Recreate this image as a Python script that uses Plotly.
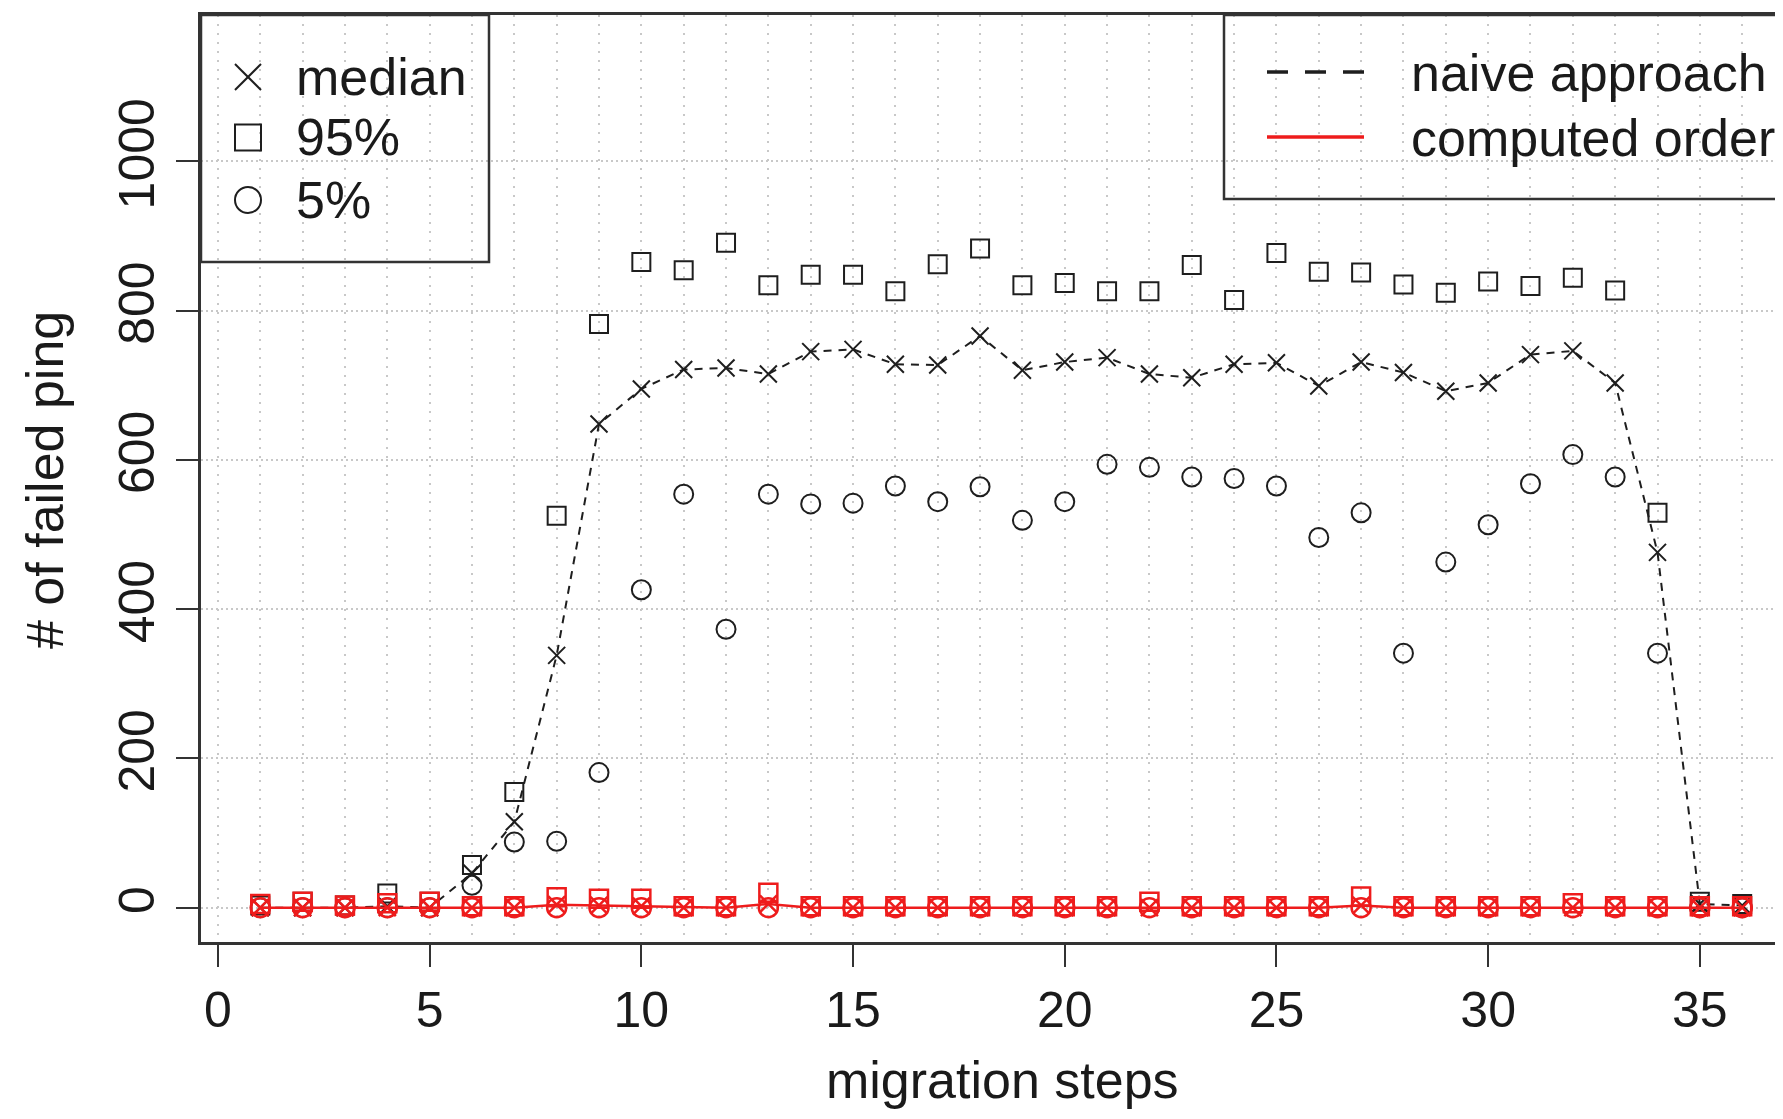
import plotly.graph_objects as go

# ---------------- data ----------------
steps = list(range(1, 37))

naive_median = [0, 0, 0, 2, 0, 46, 115, 338, 648, 695, 721, 723, 715, 745, 748, 728,
                727, 766, 720, 731, 737, 715, 710, 728, 730, 699, 731, 717, 692, 703,
                741, 746, 703, 476, 5, 3]
naive_p95 = [3, 8, 3, 19, 8, 57, 155, 525, 782, 865, 854, 891, 834, 848, 848, 826,
             862, 883, 834, 837, 826, 826, 861, 814, 877, 852, 851, 835, 824, 839,
             833, 844, 827, 529, 8, 5]
naive_p5 = [0, 0, 0, 0, 0, 30, 88, 89, 181, 426, 554, 373, 554, 541, 542, 565,
            544, 564, 519, 544, 594, 590, 577, 575, 565, 496, 529, 341, 463, 513,
            568, 607, 577, 341, 0, 0]

comp_median = [0, 0, 0, 0, 0, 0, 0, 4, 3, 2, 0, 0, 5, 0, 0, 0,
               0, 0, 0, 0, 0, 0, 0, 0, 0, 0, 3, 0, 0, 0,
               0, 0, 0, 0, 0, 0]
comp_p95 = [5, 8, 3, 6, 8, 2, 2, 14, 12, 12, 2, 2, 20, 2, 2, 2,
            2, 2, 2, 2, 2, 8, 2, 2, 2, 2, 15, 2, 2, 2,
            2, 6, 2, 2, 2, 2]
comp_p5 = [0] * 36

x_ticks = [0, 5, 10, 15, 20, 25, 30, 35]
y_ticks = [0, 200, 400, 600, 800, 1000]

legend_stats = ["median", "95%", "5%"]
legend_methods = ["naive approach", "computed order"]

# ---------------- style ----------------
BLACK = "#1e1e1e"
RED = "#ee1c1c"
FRAME = "#333333"
GRID = "#c8c8c8"
TXT = "#1a1a1a"
FONT = "Liberation Sans, Arial, Helvetica, sans-serif"

OFF = 8  # default page margin of the html body
W_FIG, H_FIG = 1783 - 2 * OFF, 1119 - 2 * OFF
L, T, B_PX = 201 - OFF, 15 - OFF, 942 - OFF
PW, PH = W_FIG - L, B_PX - T
PX_PER_STEP = 42.34


def px_x(p):
    """page pixel x -> paper coordinate"""
    return (p - OFF - L) / PW


def px_y(p):
    """page pixel y -> paper coordinate"""
    return (B_PX - (p - OFF)) / PH


fig = go.Figure()

# naive approach (black)
fig.add_trace(go.Scatter(x=steps, y=naive_median, mode="lines+markers",
                         line=dict(color=BLACK, width=2, dash="8px,7px"),
                         marker=dict(symbol="x-thin-open", size=17, color=BLACK,
                                     line=dict(color=BLACK, width=2)),
                         showlegend=False))
fig.add_trace(go.Scatter(x=steps, y=naive_p95, mode="markers",
                         marker=dict(symbol="square-open", size=18, color=BLACK,
                                     line=dict(color=BLACK, width=2)),
                         showlegend=False))
fig.add_trace(go.Scatter(x=steps, y=naive_p5, mode="markers",
                         marker=dict(symbol="circle-open", size=19, color=BLACK,
                                     line=dict(color=BLACK, width=2)),
                         showlegend=False))

# computed order (red)
fig.add_trace(go.Scatter(x=steps, y=comp_median, mode="lines+markers",
                         line=dict(color=RED, width=2.5),
                         marker=dict(symbol="x-thin-open", size=17, color=RED,
                                     line=dict(color=RED, width=2.5)),
                         showlegend=False))
fig.add_trace(go.Scatter(x=steps, y=comp_p95, mode="markers",
                         marker=dict(symbol="square-open", size=18, color=RED,
                                     line=dict(color=RED, width=2.5)),
                         showlegend=False))
fig.add_trace(go.Scatter(x=steps, y=comp_p5, mode="markers",
                         marker=dict(symbol="circle-open", size=19, color=RED,
                                     line=dict(color=RED, width=2.5)),
                         showlegend=False))

x_max = -0.4 + PW / PX_PER_STEP

fig.update_xaxes(range=[-0.4, x_max], tickvals=x_ticks, ticktext=[str(v) for v in x_ticks],
                 ticks="outside", ticklen=22, tickwidth=2, tickcolor=FRAME,
                 showline=True, linecolor=FRAME, linewidth=2.5, mirror=True,
                 showgrid=True, gridcolor=GRID, gridwidth=1.5, griddash="2px,7px",
                 minor=dict(dtick=1, tick0=0, showgrid=True, gridcolor=GRID,
                            gridwidth=1.5, griddash="2px,7px", ticks=""),
                 zeroline=False, tickfont=dict(size=50, color=TXT, family=FONT),
                 ticklabelstandoff=0)
fig.update_yaxes(range=[-46, 1196], tickvals=y_ticks, ticktext=[str(v) for v in y_ticks],
                 ticks="outside", ticklen=22, tickwidth=2, tickcolor=FRAME,
                 showline=True, linecolor=FRAME, linewidth=2.5, mirror=False,
                 showgrid=True, gridcolor=GRID, gridwidth=1.5, griddash="2px,3px",
                 zeroline=False, tickangle=-90,
                 tickfont=dict(size=50, color=TXT, family=FONT),
                 ticklabelstandoff=2)

shapes = []
annotations = []

# axis titles
annotations.append(dict(text="migration steps", x=px_x(1002), y=px_y(1080), xref="paper", yref="paper",
                        xanchor="center", yanchor="middle", showarrow=False,
                        font=dict(size=52, color=TXT, family=FONT)))
annotations.append(dict(text="# of failed ping", x=px_x(45), y=px_y(480), xref="paper", yref="paper",
                        xanchor="center", yanchor="middle", showarrow=False, textangle=-90,
                        font=dict(size=52, color=TXT, family=FONT)))

# left legend box
shapes.append(dict(type="rect", xref="paper", yref="paper", x0=px_x(201), x1=px_x(489),
                   y0=px_y(262), y1=px_y(15), line=dict(color=FRAME, width=2.5)))
sym_x = 248
half = 13
rows_y = [77, 137.5, 200]
shapes.append(dict(type="line", xref="paper", yref="paper", x0=px_x(sym_x - half), x1=px_x(sym_x + half),
                   y0=px_y(rows_y[0] - half), y1=px_y(rows_y[0] + half), line=dict(color=BLACK, width=2)))
shapes.append(dict(type="line", xref="paper", yref="paper", x0=px_x(sym_x - half), x1=px_x(sym_x + half),
                   y0=px_y(rows_y[0] + half), y1=px_y(rows_y[0] - half), line=dict(color=BLACK, width=2)))
shapes.append(dict(type="rect", xref="paper", yref="paper", x0=px_x(sym_x - half), x1=px_x(sym_x + half),
                   y0=px_y(rows_y[1] + half), y1=px_y(rows_y[1] - half), line=dict(color=BLACK, width=2)))
shapes.append(dict(type="circle", xref="paper", yref="paper", x0=px_x(sym_x - half), x1=px_x(sym_x + half),
                   y0=px_y(rows_y[2] + half), y1=px_y(rows_y[2] - half), line=dict(color=BLACK, width=2)))
for lab, yy in zip(legend_stats, rows_y):
    annotations.append(dict(text=lab, x=px_x(294), y=px_y(yy), xref="paper", yref="paper",
                            xanchor="left", yanchor="middle", showarrow=False,
                            font=dict(size=52, color=TXT, family=FONT)))

# right legend box
shapes.append(dict(type="rect", xref="paper", yref="paper", x0=px_x(1224), x1=1.02,
                   y0=px_y(199), y1=px_y(15), line=dict(color=FRAME, width=2.5)))
rows2 = [72, 137]
shapes.append(dict(type="line", xref="paper", yref="paper", x0=px_x(1267), x1=px_x(1364),
                   y0=px_y(rows2[0]), y1=px_y(rows2[0]), line=dict(color=BLACK, width=3.5, dash="21px,17px")))
shapes.append(dict(type="line", xref="paper", yref="paper", x0=px_x(1267), x1=px_x(1364),
                   y0=px_y(rows2[1]), y1=px_y(rows2[1]), line=dict(color=RED, width=3.5)))
for lab, yy in zip(legend_methods, rows2):
    annotations.append(dict(text=lab, x=px_x(1409), y=px_y(yy + 1), xref="paper", yref="paper",
                            xanchor="left", yanchor="middle", showarrow=False,
                            font=dict(size=52, color=TXT, family=FONT)))

fig.update_layout(width=W_FIG, height=H_FIG,
                  margin=dict(l=L, r=0, t=T, b=H_FIG - B_PX, pad=0),
                  plot_bgcolor="white", paper_bgcolor="white",
                  shapes=shapes, annotations=annotations,
                  font=dict(family=FONT), showlegend=False)

fig.write_html("out.html")
